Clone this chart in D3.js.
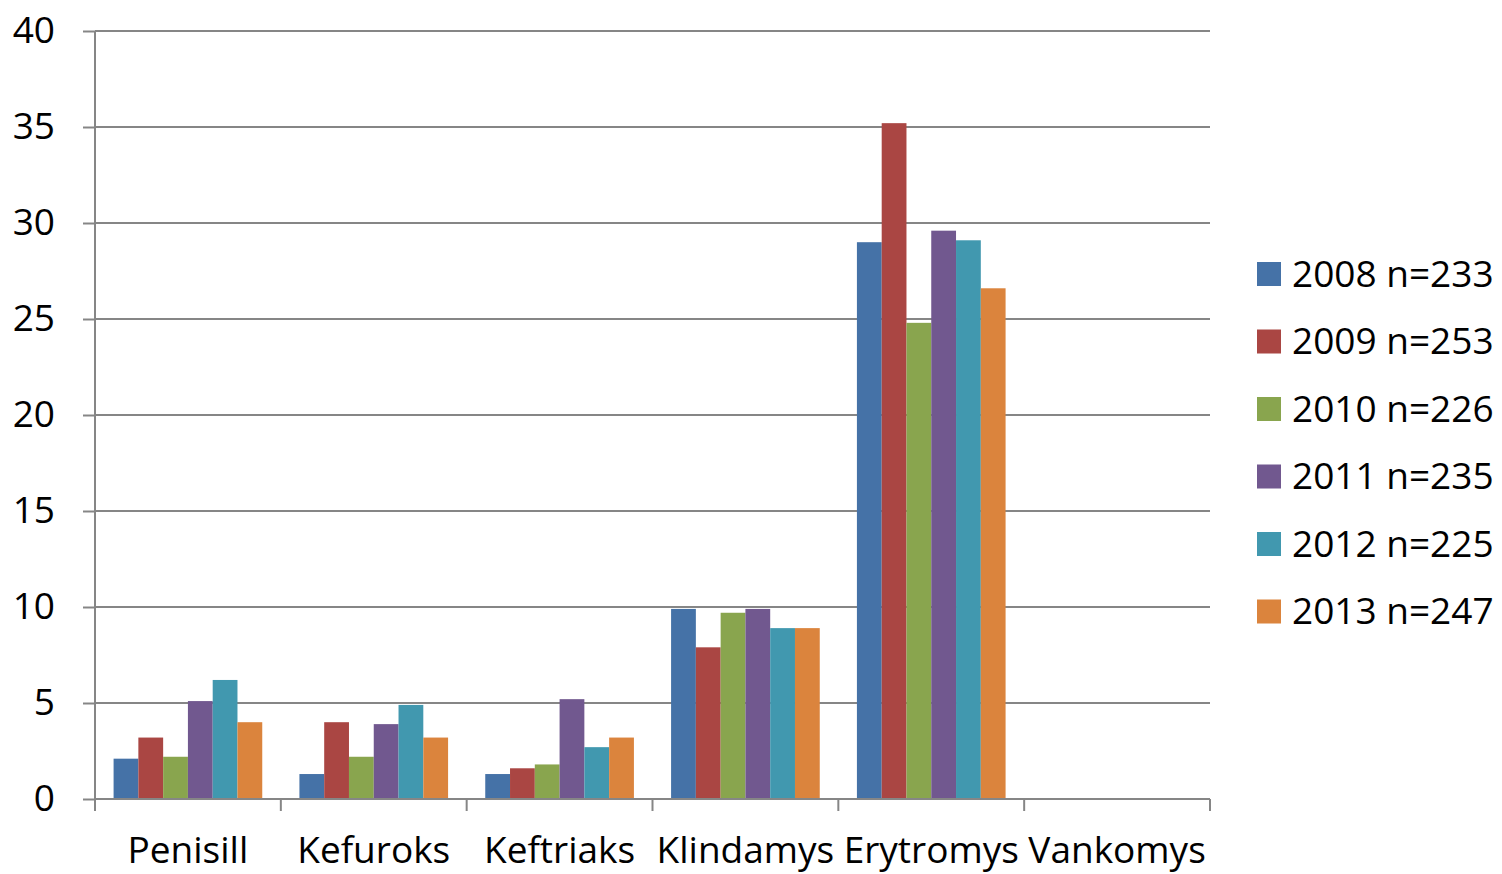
<!doctype html>
<html>
<head>
<meta charset="utf-8">
<script src="https://d3js.org/d3.v7.min.js"></script>
<style>
  body { margin: 0; background: #fff; }
  text { font-family: "Open Sans", "Noto Sans", sans-serif; fill: #000; }
</style>
</head>
<body>
<script>
  // data
  var categories = ["Penisill", "Kefuroks", "Keftriaks", "Klindamys", "Erytromys", "Vankomys"];
  var seriesNames = ["2008 n=233", "2009 n=253", "2010 n=226", "2011 n=235", "2012 n=225", "2013 n=247"];
  var s2008 = [2.1, 1.3, 1.3, 9.9, 29.0, 0];
  var s2009 = [3.2, 4.0, 1.6, 7.9, 35.2, 0];
  var s2010 = [2.2, 2.2, 1.8, 9.7, 24.8, 0];
  var s2011 = [5.1, 3.9, 5.2, 9.9, 29.6, 0];
  var s2012 = [6.2, 4.9, 2.7, 8.9, 29.1, 0];
  var s2013 = [4.0, 3.2, 3.2, 8.9, 26.6, 0];
  var yTicks = [0, 5, 10, 15, 20, 25, 30, 35, 40];
  var colors = ["#4572A7", "#AA4643", "#89A54E", "#71588F", "#4198AF", "#DB843D"];

  var series = [s2008, s2009, s2010, s2011, s2012, s2013];

  var W = 1502, H = 874;
  var pLeft = 95, pRight = 1210, pTop = 31, pBottom = 799;
  var fontSize = "37px";

  var svg = d3.select("body").append("svg")
      .attr("width", W).attr("height", H);

  var x = d3.scaleBand().domain(categories).range([pLeft, pRight]).paddingInner(0).paddingOuter(0);
  var y = d3.scaleLinear().domain([0, 40]).range([pBottom, pTop]);

  // bars inside a band: 6 bars + gap of 150% of a bar
  var inner = d3.scaleBand().domain(d3.range(series.length))
      .range([0, x.bandwidth()]).paddingOuter(0.75).paddingInner(0);

  // gridlines
  svg.append("g").selectAll("line")
    .data(yTicks.filter(function(d) { return d > 0; }))
    .enter().append("line")
      .attr("x1", pLeft).attr("x2", pRight)
      .attr("y1", function(d) { return y(d); })
      .attr("y2", function(d) { return y(d); })
      .attr("stroke", "#868686").attr("stroke-width", 2);

  // bars
  series.forEach(function(vals, si) {
    svg.append("g").selectAll("rect")
      .data(vals)
      .enter().append("rect")
        .attr("x", function(d, i) { return x(categories[i]) + inner(si); })
        .attr("y", function(d) { return y(d); })
        .attr("width", inner.bandwidth())
        .attr("height", function(d) { return pBottom - y(d); })
        .attr("fill", colors[si]);
  });

  // y axis
  var yAxis = svg.append("g")
    .attr("transform", "translate(" + pLeft + ",0)")
    .call(d3.axisLeft(y).tickValues(yTicks).tickSize(12).tickPadding(28));
  yAxis.selectAll("path, line").attr("stroke", "#868686").attr("stroke-width", 2);
  yAxis.select(".domain").attr("d", "M0," + pTop + "V" + pBottom);
  yAxis.selectAll("text").style("font-size", fontSize).attr("font-family", null);

  // x axis
  var xAxis = svg.append("g")
    .attr("transform", "translate(0," + pBottom + ")");
  xAxis.append("line")
    .attr("x1", pLeft).attr("x2", pRight).attr("y1", 0).attr("y2", 0)
    .attr("stroke", "#868686").attr("stroke-width", 2);
  var edges = categories.map(function(c) { return x(c); }).concat([pRight]);
  xAxis.selectAll(".tk").data(edges).enter().append("line")
    .attr("x1", function(d) { return d; }).attr("x2", function(d) { return d; })
    .attr("y1", 0).attr("y2", 12)
    .attr("stroke", "#868686").attr("stroke-width", 2);
  xAxis.selectAll(".lbl").data(categories).enter().append("text")
    .attr("x", function(d) { return x(d) + x.bandwidth() / 2; })
    .attr("y", 64)
    .attr("text-anchor", "middle")
    .style("font-size", fontSize)
    .text(function(d) { return d; });

  // legend
  var legend = svg.append("g");
  seriesNames.forEach(function(name, i) {
    var cy = 274 + i * 67.5;
    legend.append("rect")
      .attr("x", 1257).attr("y", cy - 12)
      .attr("width", 24).attr("height", 24)
      .attr("fill", colors[i]);
    legend.append("text")
      .attr("x", 1292).attr("y", cy)
      .attr("dy", "0.35em")
      .style("font-size", fontSize)
      .text(name);
  });
</script>
</body>
</html>
